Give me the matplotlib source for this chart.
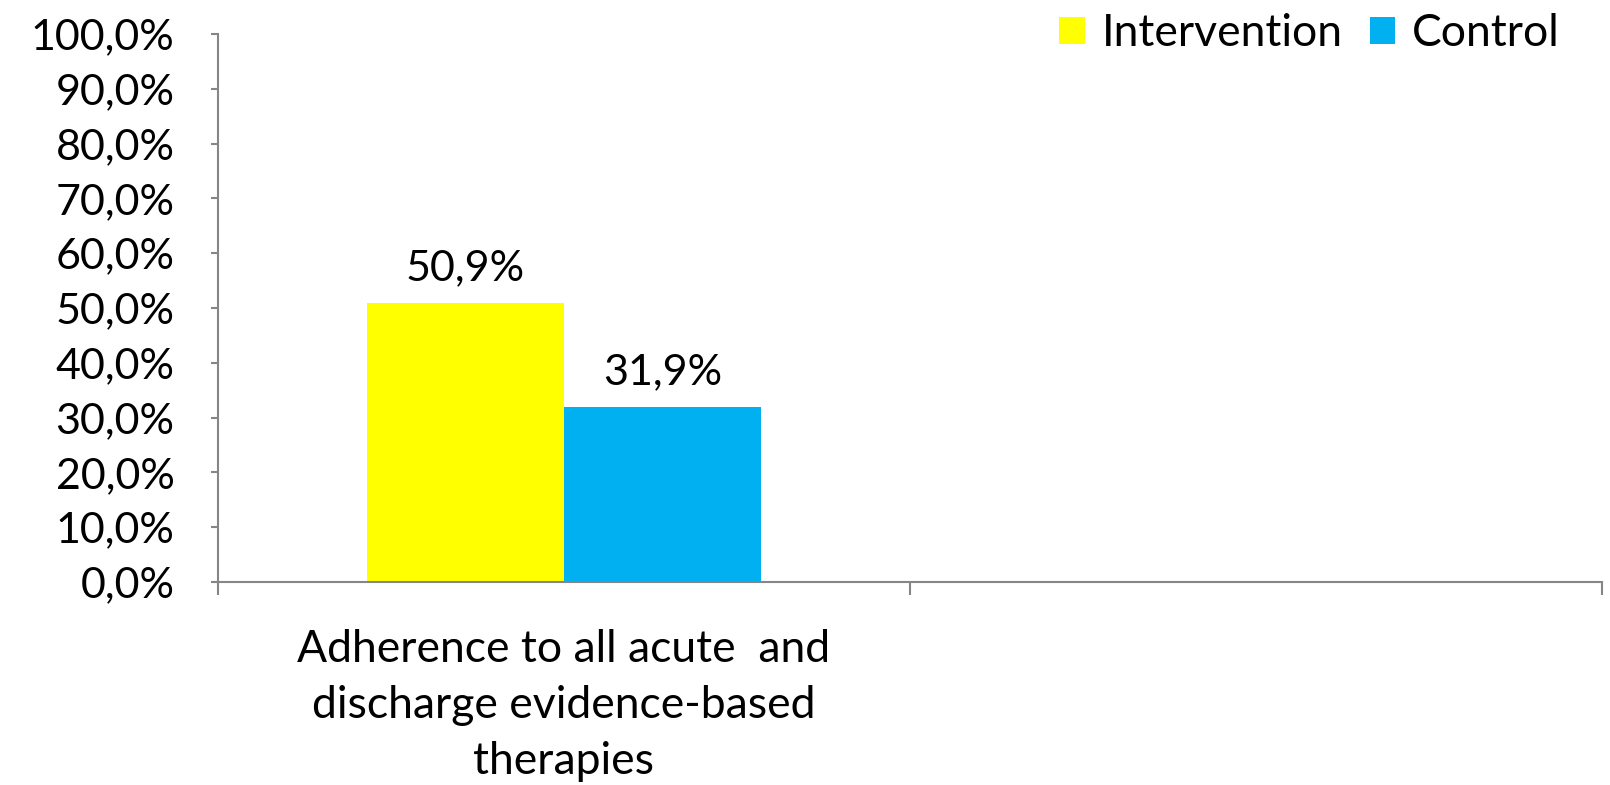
import matplotlib
matplotlib.use("Agg")
import matplotlib.pyplot as plt
from matplotlib.patches import Patch
import numpy as np

categories = ["Adherence to all acute  and\ndischarge evidence-based\ntherapies", ""]
series_names = ["Intervention", "Control"]
intervention = [50.9, np.nan]
control = [31.9, np.nan]
colors = ["#FFFF00", "#00B0F0"]
yticks = [0, 10, 20, 30, 40, 50, 60, 70, 80, 90, 100]

plt.rcParams['font.family'] = ['Lato', 'DejaVu Sans']
FS = 31
axis_color = "#868686"

fig = plt.figure(figsize=(16.1, 7.85), dpi=100)
W, H = 1610, 785
ax = fig.add_axes([217.7 / W, 1 - 582 / H, (1602 - 217.7) / W, (582 - 33.9) / H])

x = np.arange(len(categories))
bw = 0.285
for i, (vals, name, col) in enumerate(zip([intervention, control], series_names, colors)):
    offs = (i - 0.5) * bw
    bars = ax.bar(x + offs, vals, width=bw, color=col, label=name, zorder=2)
    for xi, v in zip(x, vals):
        if not np.isnan(v):
            ax.annotate(f"{v:.1f}%".replace(".", ","), (xi + offs, v),
                        xytext=(0, 16), textcoords="offset pixels",
                        ha="center", va="bottom", fontsize=FS)

ax.set_xlim(-0.5, len(categories) - 0.5)
ax.set_ylim(0, 100)
ax.set_yticks(yticks)
ax.set_yticklabels([f"{t:.1f}%".replace(".", ",") for t in yticks], fontsize=FS)
ax.set_xticks(x)
ax.set_xticklabels(categories, fontsize=32, linespacing=1.45)
ax.set_xticks(np.arange(-0.5, len(categories)), minor=True)
ax.tick_params(axis="x", which="major", length=0, pad=34)
ax.tick_params(axis="x", which="minor", length=9, width=1.5, color=axis_color)
ax.tick_params(axis="y", which="major", length=5, width=1.5, color=axis_color, pad=26)

for s in ["top", "right"]:
    ax.spines[s].set_visible(False)
for s in ["left", "bottom"]:
    ax.spines[s].set_color(axis_color)
    ax.spines[s].set_linewidth(1.5)

handles = [Patch(facecolor=c, edgecolor="none") for c in colors]
fig.legend(handles, series_names, loc="center right",
           bbox_to_anchor=(1560 / W, 1 - 34 / H), bbox_transform=fig.transFigure,
           ncol=2, frameon=False, fontsize=32, handlelength=0.57, handleheight=0.57,
           handletextpad=0.38, columnspacing=0.62, borderpad=0, borderaxespad=0)

fig.savefig("out.png", dpi=100, facecolor="white")
